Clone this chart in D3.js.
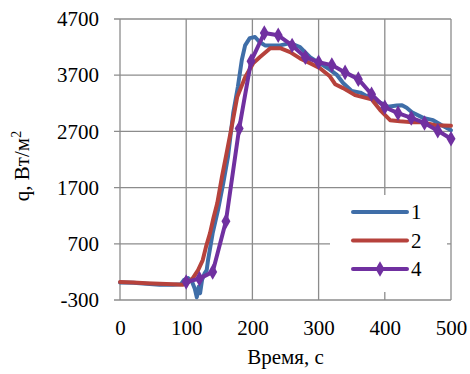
<!DOCTYPE html>
<html>
<head>
<meta charset="utf-8">
<script src="https://cdn.jsdelivr.net/npm/d3@7"></script>
<style>
    body { margin: 0; background: #fff; }
    #chart { width: 470px; height: 374px; }
</style>
</head>
<body>
<div id="chart"></div>
<script>
// Axis ticks
const xTicks = [0, 100, 200, 300, 400, 500];
const yTicks = [-300, 700, 1700, 2700, 3700, 4700];

// Series 1 (blue)
const time1 = [0, 20, 40, 60, 80, 92, 97, 103, 109, 113, 116, 119, 121, 124, 128, 131, 133, 140, 148, 156, 163,
    171, 178, 184, 189, 196, 204, 211, 219, 227, 242, 257, 272, 287, 302, 317, 328, 337, 350, 363, 383, 397,
    405, 418, 426, 433, 441, 458, 473, 486, 500];
const q1 = [10, 5, -10, -30, -30, -20, 60, 90, 20, -100, -250, -60, -180, 60, 180, 233, 411, 890, 1300, 1780, 2240,
    3025, 3490, 3970, 4230, 4360, 4380, 4290, 4230, 4230, 4230, 4270, 4200, 4020, 3910, 3800, 3700, 3560, 3420, 3390, 3260, 3190,
    3140, 3160, 3165, 3120, 3040, 2940, 2900, 2810, 2720];

// Series 2 (red)
const time2 = [0, 20, 40, 60, 80, 95, 105, 110, 118, 125, 130, 136, 141, 147, 154, 162, 169, 177, 189, 201, 211,
    227, 242, 257, 272, 287, 302, 317, 325, 337, 355, 380, 393, 408, 423, 438, 456, 476, 500];
const q2 = [20, 10, 0, -10, -20, -30, 30, 90, 233, 411, 650, 890, 1150, 1425, 1890, 2370, 2800, 3310, 3665, 3910, 4020,
    4180, 4180, 4110, 4000, 3914, 3825, 3680, 3540, 3470, 3345, 3270, 3080, 2900, 2880, 2865, 2865, 2811, 2800];

// Series 4 (purple, with markers)
const time4 = [100, 120, 140, 160, 180, 198, 218, 239, 260, 280, 300, 320, 340, 360, 380, 400, 420, 440, 460, 480, 500];
const q4 = [20, 80, 200, 1100, 2750, 3950, 4450, 4410, 4230, 4020, 3930, 3880, 3750, 3630, 3360, 3130, 3025, 2940, 2850, 2710, 2570];

const seriesNames = ['1', '2', '4'];
const seriesColors = ['#3f6ea8', '#b6423c', '#7030a0'];

const fontFamily = "'Times New Roman', Tinos, 'Liberation Serif', 'Noto Serif', 'DejaVu Serif', Times, serif";

function drawChart() {
    const width = 470;
    const height = 374;
    const margin = {top: 19, right: 19, bottom: 74, left: 120};
    const innerWidth = width - margin.left - margin.right;
    const innerHeight = height - margin.top - margin.bottom;

    const svg = d3.select('#chart')
        .append('svg')
        .attr('width', width)
        .attr('height', height)
        .attr('font-family', fontFamily);

    const g = svg.append('g')
        .attr('transform', `translate(${margin.left},${margin.top})`);

    const xScale = d3.scaleLinear().domain([0, 500]).range([0, innerWidth]);
    const yScale = d3.scaleLinear().domain([-300, 4700]).range([innerHeight, 0]);

    const gridColor = '#8c8c8c';

    // Gridlines
    g.append('g')
        .selectAll('line')
        .data(yTicks)
        .enter()
        .append('line')
        .attr('x1', -6)
        .attr('x2', innerWidth)
        .attr('y1', d => yScale(d))
        .attr('y2', d => yScale(d))
        .attr('stroke', gridColor)
        .attr('stroke-width', 1.3);

    g.append('g')
        .selectAll('line')
        .data(xTicks)
        .enter()
        .append('line')
        .attr('x1', d => xScale(d))
        .attr('x2', d => xScale(d))
        .attr('y1', 0)
        .attr('y2', innerHeight)
        .attr('stroke', gridColor)
        .attr('stroke-width', 1.3);

    // Axes (labels only, lines are the gridlines)
    const yAxis = d3.axisLeft(yScale).tickValues(yTicks).tickSize(0).tickPadding(21).tickFormat(d => String(d));
    const yG = g.append('g').call(yAxis).attr('font-family', fontFamily).attr('font-size', 21);
    yG.select('.domain').remove();

    const xAxis = d3.axisBottom(xScale).tickValues(xTicks).tickSize(0).tickPadding(20).tickFormat(d => String(d));
    const xG = g.append('g')
        .attr('transform', `translate(0,${innerHeight})`)
        .call(xAxis)
        .attr('font-family', fontFamily)
        .attr('font-size', 21);
    xG.select('.domain').remove();

    // Axis titles
    svg.append('text')
        .attr('x', margin.left + innerWidth / 2)
        .attr('y', 364)
        .attr('text-anchor', 'middle')
        .attr('font-size', 21)
        .text('Время, с');

    const yTitle = svg.append('text')
        .attr('transform', 'translate(29,166) rotate(-90)')
        .attr('text-anchor', 'middle')
        .attr('font-size', 21);
    yTitle.append('tspan').text('q, Вт/м');
    yTitle.append('tspan').attr('dy', '-8').attr('font-size', 14).text('2');

    // Lines
    const line = d3.line()
        .x(d => xScale(d[0]))
        .y(d => yScale(d[1]));

    const allSeries = [
        d3.zip(time1, q1),
        d3.zip(time2, q2),
        d3.zip(time4, q4)
    ];

    allSeries.forEach((data, i) => {
        g.append('path')
            .datum(data)
            .attr('fill', 'none')
            .attr('stroke', seriesColors[i])
            .attr('stroke-width', 4)
            .attr('stroke-linejoin', 'round')
            .attr('stroke-linecap', 'round')
            .attr('d', line);
    });

    // Diamond markers for series 4
    const diamond = d3.symbol().type(d3.symbolDiamond).size(70);
    g.selectAll('.marker')
        .data(allSeries[2])
        .enter()
        .append('path')
        .attr('class', 'marker')
        .attr('d', diamond)
        .attr('transform', d => `translate(${xScale(d[0])},${yScale(d[1])})`)
        .attr('fill', seriesColors[2]);

    // Legend
    const legend = svg.append('g');
    legend.append('rect')
        .attr('x', 330)
        .attr('y', 195)
        .attr('width', 117)
        .attr('height', 97)
        .attr('fill', '#fff');

    seriesNames.forEach((name, i) => {
        const y = 212 + i * 28.5;
        legend.append('line')
            .attr('x1', 353)
            .attr('x2', 407)
            .attr('y1', y)
            .attr('y2', y)
            .attr('stroke', seriesColors[i])
            .attr('stroke-width', 4)
            .attr('stroke-linecap', 'round');
        if (i === 2) {
            legend.append('path')
                .attr('d', diamond)
                .attr('transform', `translate(380,${y})`)
                .attr('fill', seriesColors[i]);
        }
        legend.append('text')
            .attr('x', 411)
            .attr('y', y)
            .attr('dy', '0.35em')
            .attr('font-size', 21)
            .text(name);
    });
}

document.addEventListener('DOMContentLoaded', drawChart);
</script>
</body>
</html>
